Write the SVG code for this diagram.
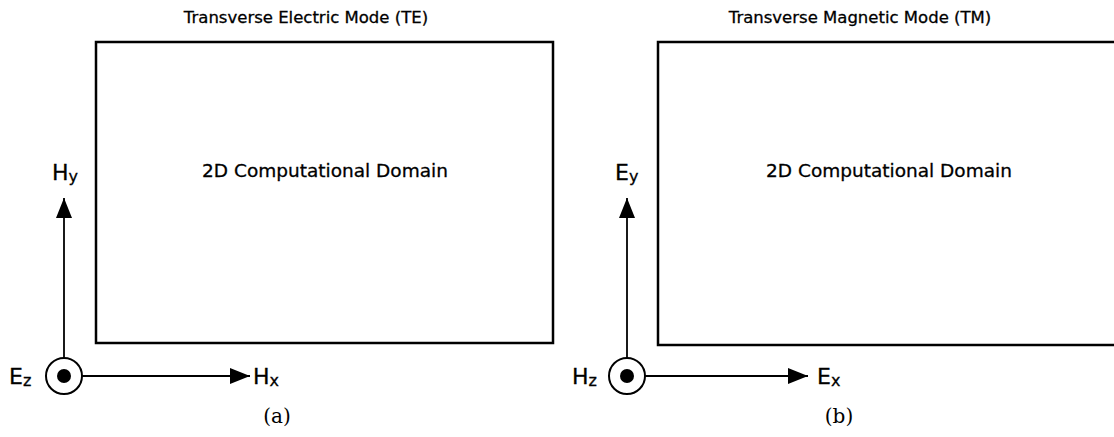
<svg xmlns="http://www.w3.org/2000/svg" width="1114" height="437" viewBox="0 0 1114 437">
<style>
.t{font-family:"DejaVu Sans","Liberation Sans",sans-serif;fill:#000;stroke:#000;stroke-width:0.3}
.ttl{font-size:16.5px}
.dom{font-size:18.5px}
.lab{font-size:22px}
.sub{font-size:16px}
.cap{font-family:"DejaVu Serif","Liberation Serif",serif;font-size:20px}
.box{fill:none;stroke:#000;stroke-width:2.5}
.ax{stroke:#000;stroke-width:1.8;fill:none}
</style>
<defs>
<marker id="ah" viewBox="0 0 20 16" refX="20" refY="8" markerWidth="20" markerHeight="16" markerUnits="userSpaceOnUse" orient="auto">
<path d="M0,0 L20,8 L0,16 Z" fill="#000"/>
</marker>
</defs>
<rect width="1114" height="437" fill="#fff"/>
<g id="panel-a">
<text class="t ttl" x="306" y="23" text-anchor="middle">Transverse Electric Mode (TE)</text>
<rect class="box" x="96" y="42" width="457" height="301"/>
<text class="t dom" x="325" y="177" text-anchor="middle">2D Computational Domain</text>
<text class="t lab" x="52" y="180">H<tspan class="sub" dy="2">y</tspan></text>
<text class="t lab" x="9" y="384">E<tspan class="sub" dy="2">z</tspan></text>
<text class="t lab" x="253" y="384">H<tspan class="sub" dy="2">x</tspan></text>
<circle cx="64" cy="376" r="18" fill="none" stroke="#000" stroke-width="2"/>
<circle cx="64" cy="376" r="7" fill="#000"/>
<text class="cap" x="277" y="423" text-anchor="middle">(a)</text>
</g>
<g id="panel-b">
<text class="t ttl" x="860" y="23" text-anchor="middle">Transverse Magnetic Mode (TM)</text>
<rect class="box" x="658" y="42" width="470" height="303"/>
<text class="t dom" x="889" y="177" text-anchor="middle">2D Computational Domain</text>
<text class="t lab" x="615" y="180">E<tspan class="sub" dy="2">y</tspan></text>
<text class="t lab" x="572" y="384">H<tspan class="sub" dy="2">z</tspan></text>
<text class="t lab" x="817" y="384">E<tspan class="sub" dy="2">x</tspan></text>
<circle cx="627" cy="376" r="18" fill="none" stroke="#000" stroke-width="2"/>
<circle cx="627" cy="376" r="7" fill="#000"/>
<text class="cap" x="839" y="423" text-anchor="middle">(b)</text>
</g>
<g id="connectors">
<line class="ax" x1="64" y1="358" x2="64" y2="198" marker-end="url(#ah)"/>
<line class="ax" x1="82" y1="376" x2="250" y2="376" marker-end="url(#ah)"/>
<line class="ax" x1="627" y1="358" x2="627" y2="198" marker-end="url(#ah)"/>
<line class="ax" x1="645" y1="376" x2="808" y2="376" marker-end="url(#ah)"/>
</g>
</svg>
